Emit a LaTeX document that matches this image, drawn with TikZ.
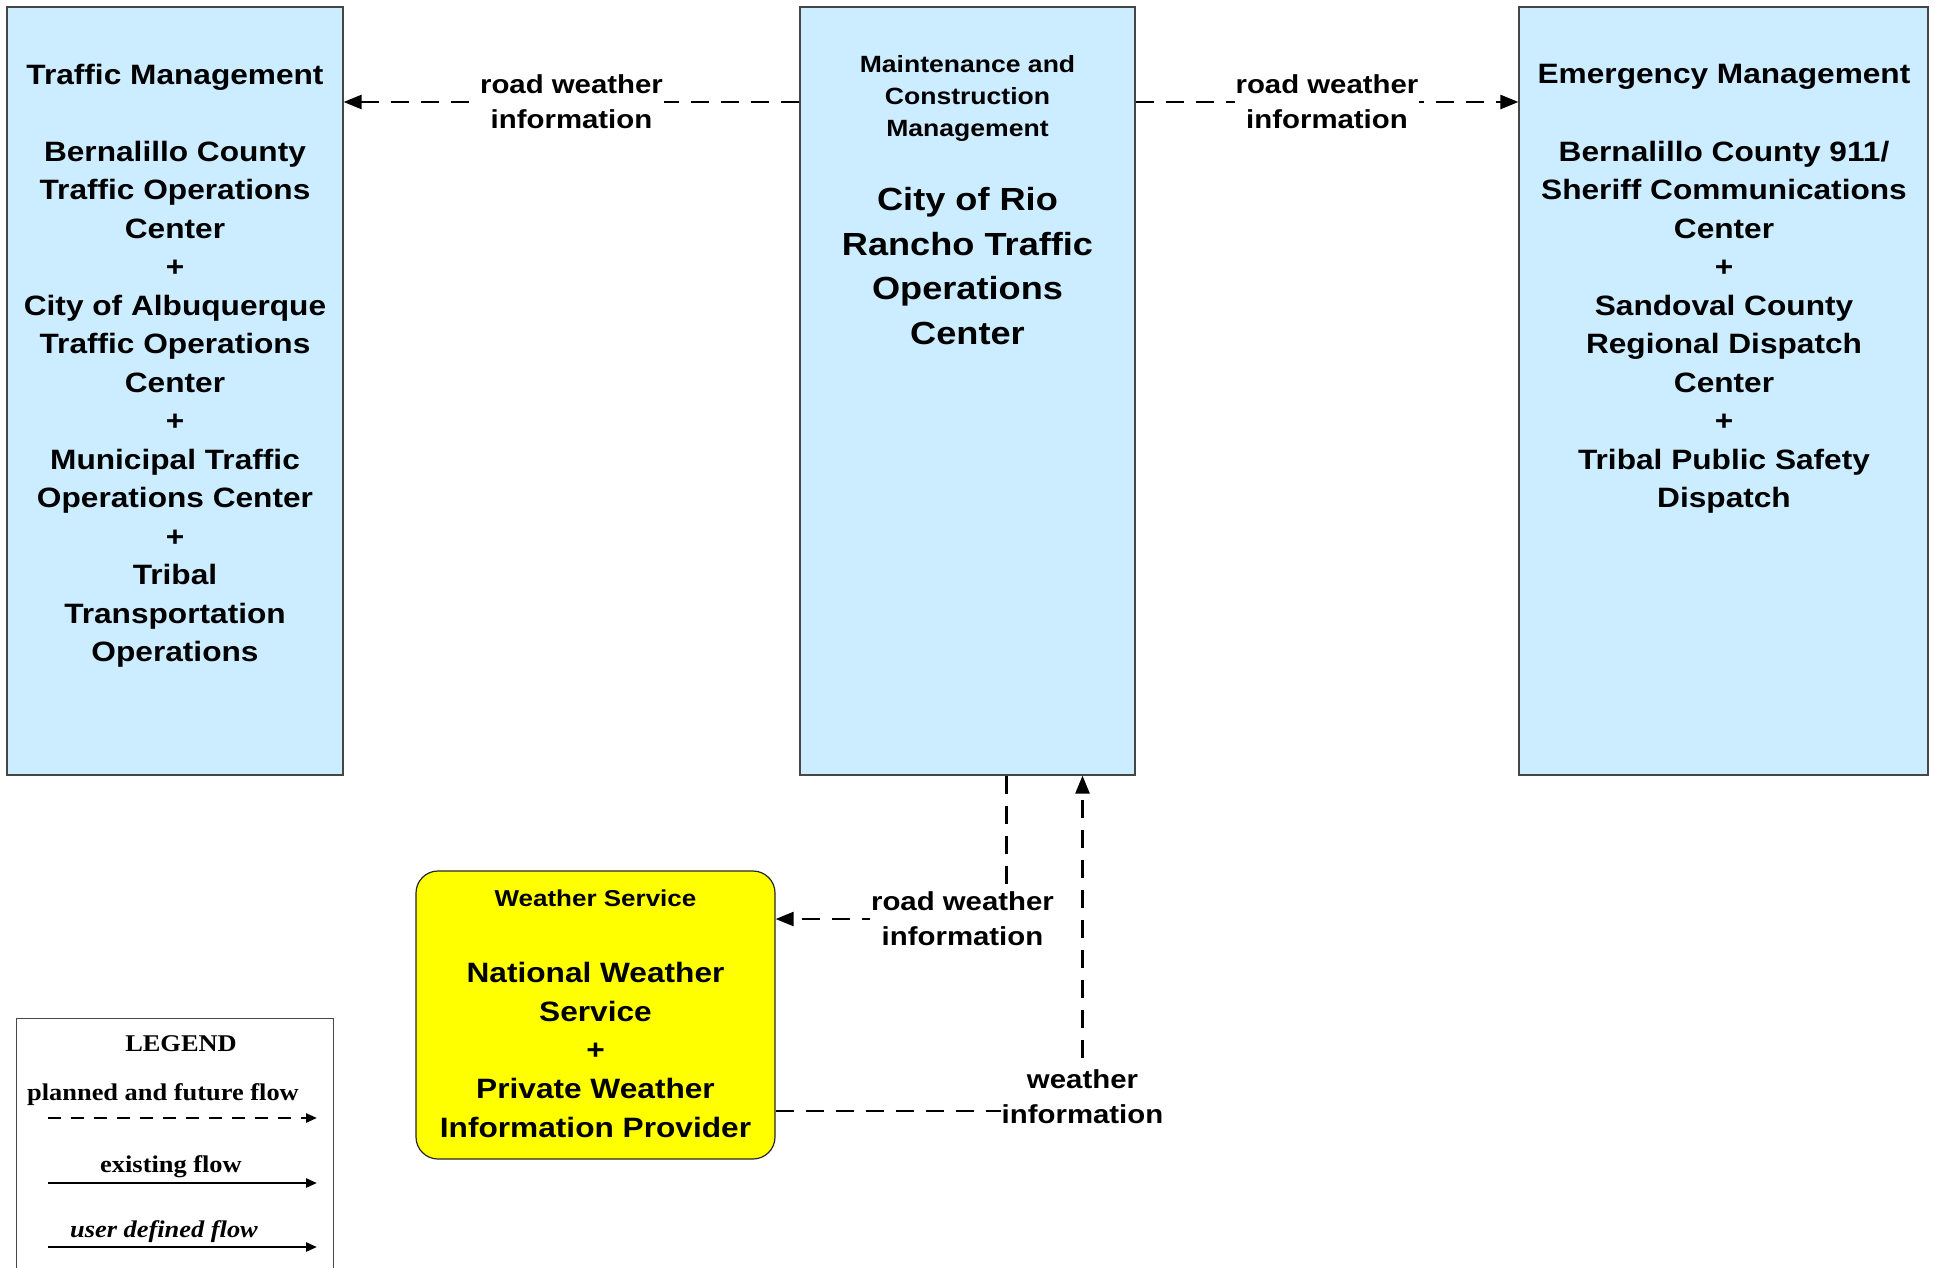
\documentclass[tikz,border=0pt]{standalone}
\usepackage{fontspec}
\setmainfont[FakeStretch=1.13]{Liberation Sans}
\newfontfamily\legendfont[FakeStretch=1.1]{Liberation Serif}
\usetikzlibrary{arrows.meta}
\definecolor{boxblue}{RGB}{204,236,255}
\definecolor{boxline}{RGB}{70,70,70}
\definecolor{wsyellow}{RGB}{255,255,0}
\begin{document}
\begin{tikzpicture}[x=1pt,y=-1pt,
  entity/.style={draw=boxline, line width=1.2pt, fill=boxblue, inner sep=0pt},
  wsbox/.style={draw=black!85, line width=1.2pt, fill=wsyellow, rounded corners=22pt, inner sep=0pt},
  ttl/.style={align=center, inner sep=0pt, anchor=north, font=\bfseries\fontsize{28}{38.4}\selectfont},
  bodytxt/.style={align=center, inner sep=0pt, anchor=north, font=\bfseries\fontsize{28}{38.5}\selectfont},
  smalltxt/.style={align=center, inner sep=0pt, anchor=north, font=\bfseries\fontsize{23.5}{32}\selectfont},
  bigtxt/.style={align=center, inner sep=0pt, anchor=north, font=\bfseries\fontsize{32}{44.7}\selectfont},
  flow/.style={line width=2.5pt, dash pattern=on 18pt off 12pt, -{Triangle[length=18pt,width=14pt]}},
  flowlabel/.style={fill=white, align=center, inner sep=1pt, font=\bfseries\fontsize{26}{35}\selectfont},
  legtxt/.style={inner sep=0pt, font=\legendfont\bfseries\fontsize{24}{28}\selectfont},
  legflow/.style={line width=2.5pt, -{Triangle[length=11pt,width=9pt]}}
]
\useasboundingbox (0,0) rectangle (1935,1268);

% boxes
\node[entity, minimum width=336pt, minimum height=768pt] (tm) at (175,391) {};
\node[entity, minimum width=335pt, minimum height=768pt] (mcm) at (967.5,391) {};
\node[entity, minimum width=409pt, minimum height=768pt] (em) at (1723.5,391) {};
\node[wsbox, minimum width=359pt, minimum height=288pt] (ws) at (595.5,1015) {};

% texts
\node[ttl] (tmtitle) at (175,63.7) {Traffic Management};
\node[bodytxt] (tmbody) at (175,140.7) {Bernalillo County\\Traffic Operations\\Center\\+\\City of Albuquerque\\Traffic Operations\\Center\\+\\Municipal Traffic\\Operations Center\\+\\Tribal\\Transportation\\Operations};

\node[ttl] (emtitle) at (1724,63.7) {Emergency Management};
\node[bodytxt] (embody) at (1724,140.7) {Bernalillo County 911/\\Sheriff Communications\\Center\\+\\Sandoval County\\Regional Dispatch\\Center\\+\\Tribal Public Safety\\Dispatch};

\node[smalltxt] (mcmtitle) at (967.5,55.3) {Maintenance and\\Construction\\Management};
\node[bigtxt] (mcmbody) at (967.5,187.2) {City of Rio\\Rancho Traffic\\Operations\\Center};

\node[smalltxt, font=\bfseries\fontsize{23}{32}\selectfont] (wstitle) at (595.5,889.5) {Weather Service};
\node[bodytxt, font=\bfseries\fontsize{28}{38.8}\selectfont] (wsbody) at (595.5,961.7) {National Weather\\Service\\+\\Private Weather\\Information Provider};

% connectors
\draw[flow] ([yshift=289pt]mcm.west) -- node[flowlabel] (l1) {road weather\\information} ([yshift=289pt]tm.east);
\draw[flow] ([yshift=289pt]mcm.east) -- node[flowlabel] (l2) {road weather\\information} ([yshift=289pt]em.west);
\draw[flow] ([xshift=39pt]mcm.south) |- node[flowlabel, pos=0.5, xshift=-44pt] (l3) {road weather\\information} ([yshift=96pt]ws.east);
\draw[flow] ([yshift=-96pt]ws.east) -| node[flowlabel, pos=0.5, yshift=14pt] (l4) {weather\\information} ([xshift=115pt]mcm.south);

% legend
\node[draw=boxline, line width=1.2pt, minimum width=317pt, minimum height=280pt, anchor=north west, inner sep=0pt] (legend) at (16,1018) {};
\node[legtxt, anchor=base] (legt) at (181,1051) {LEGEND};
\node[legtxt, anchor=base] (lp) at (163,1100) {planned and future flow};
\node[legtxt, anchor=base] (le) at (171,1172) {existing flow};
\node[legtxt, anchor=base, font=\legendfont\bfseries\itshape\fontsize{24}{28}\selectfont] (lu) at (164,1237) {user defined flow};
\coordinate (pa) at (48,1118);
\coordinate (pb) at (317,1118);
\coordinate (ea) at (48,1183);
\coordinate (eb) at (317,1183);
\coordinate (ua) at (48,1247);
\coordinate (ub) at (317,1247);
\draw[legflow, dash pattern=on 13pt off 10pt] (pa) -- (pb);
\draw[legflow] (ea) -- (eb);
\draw[legflow] (ua) -- (ub);
\end{tikzpicture}
\end{document}
